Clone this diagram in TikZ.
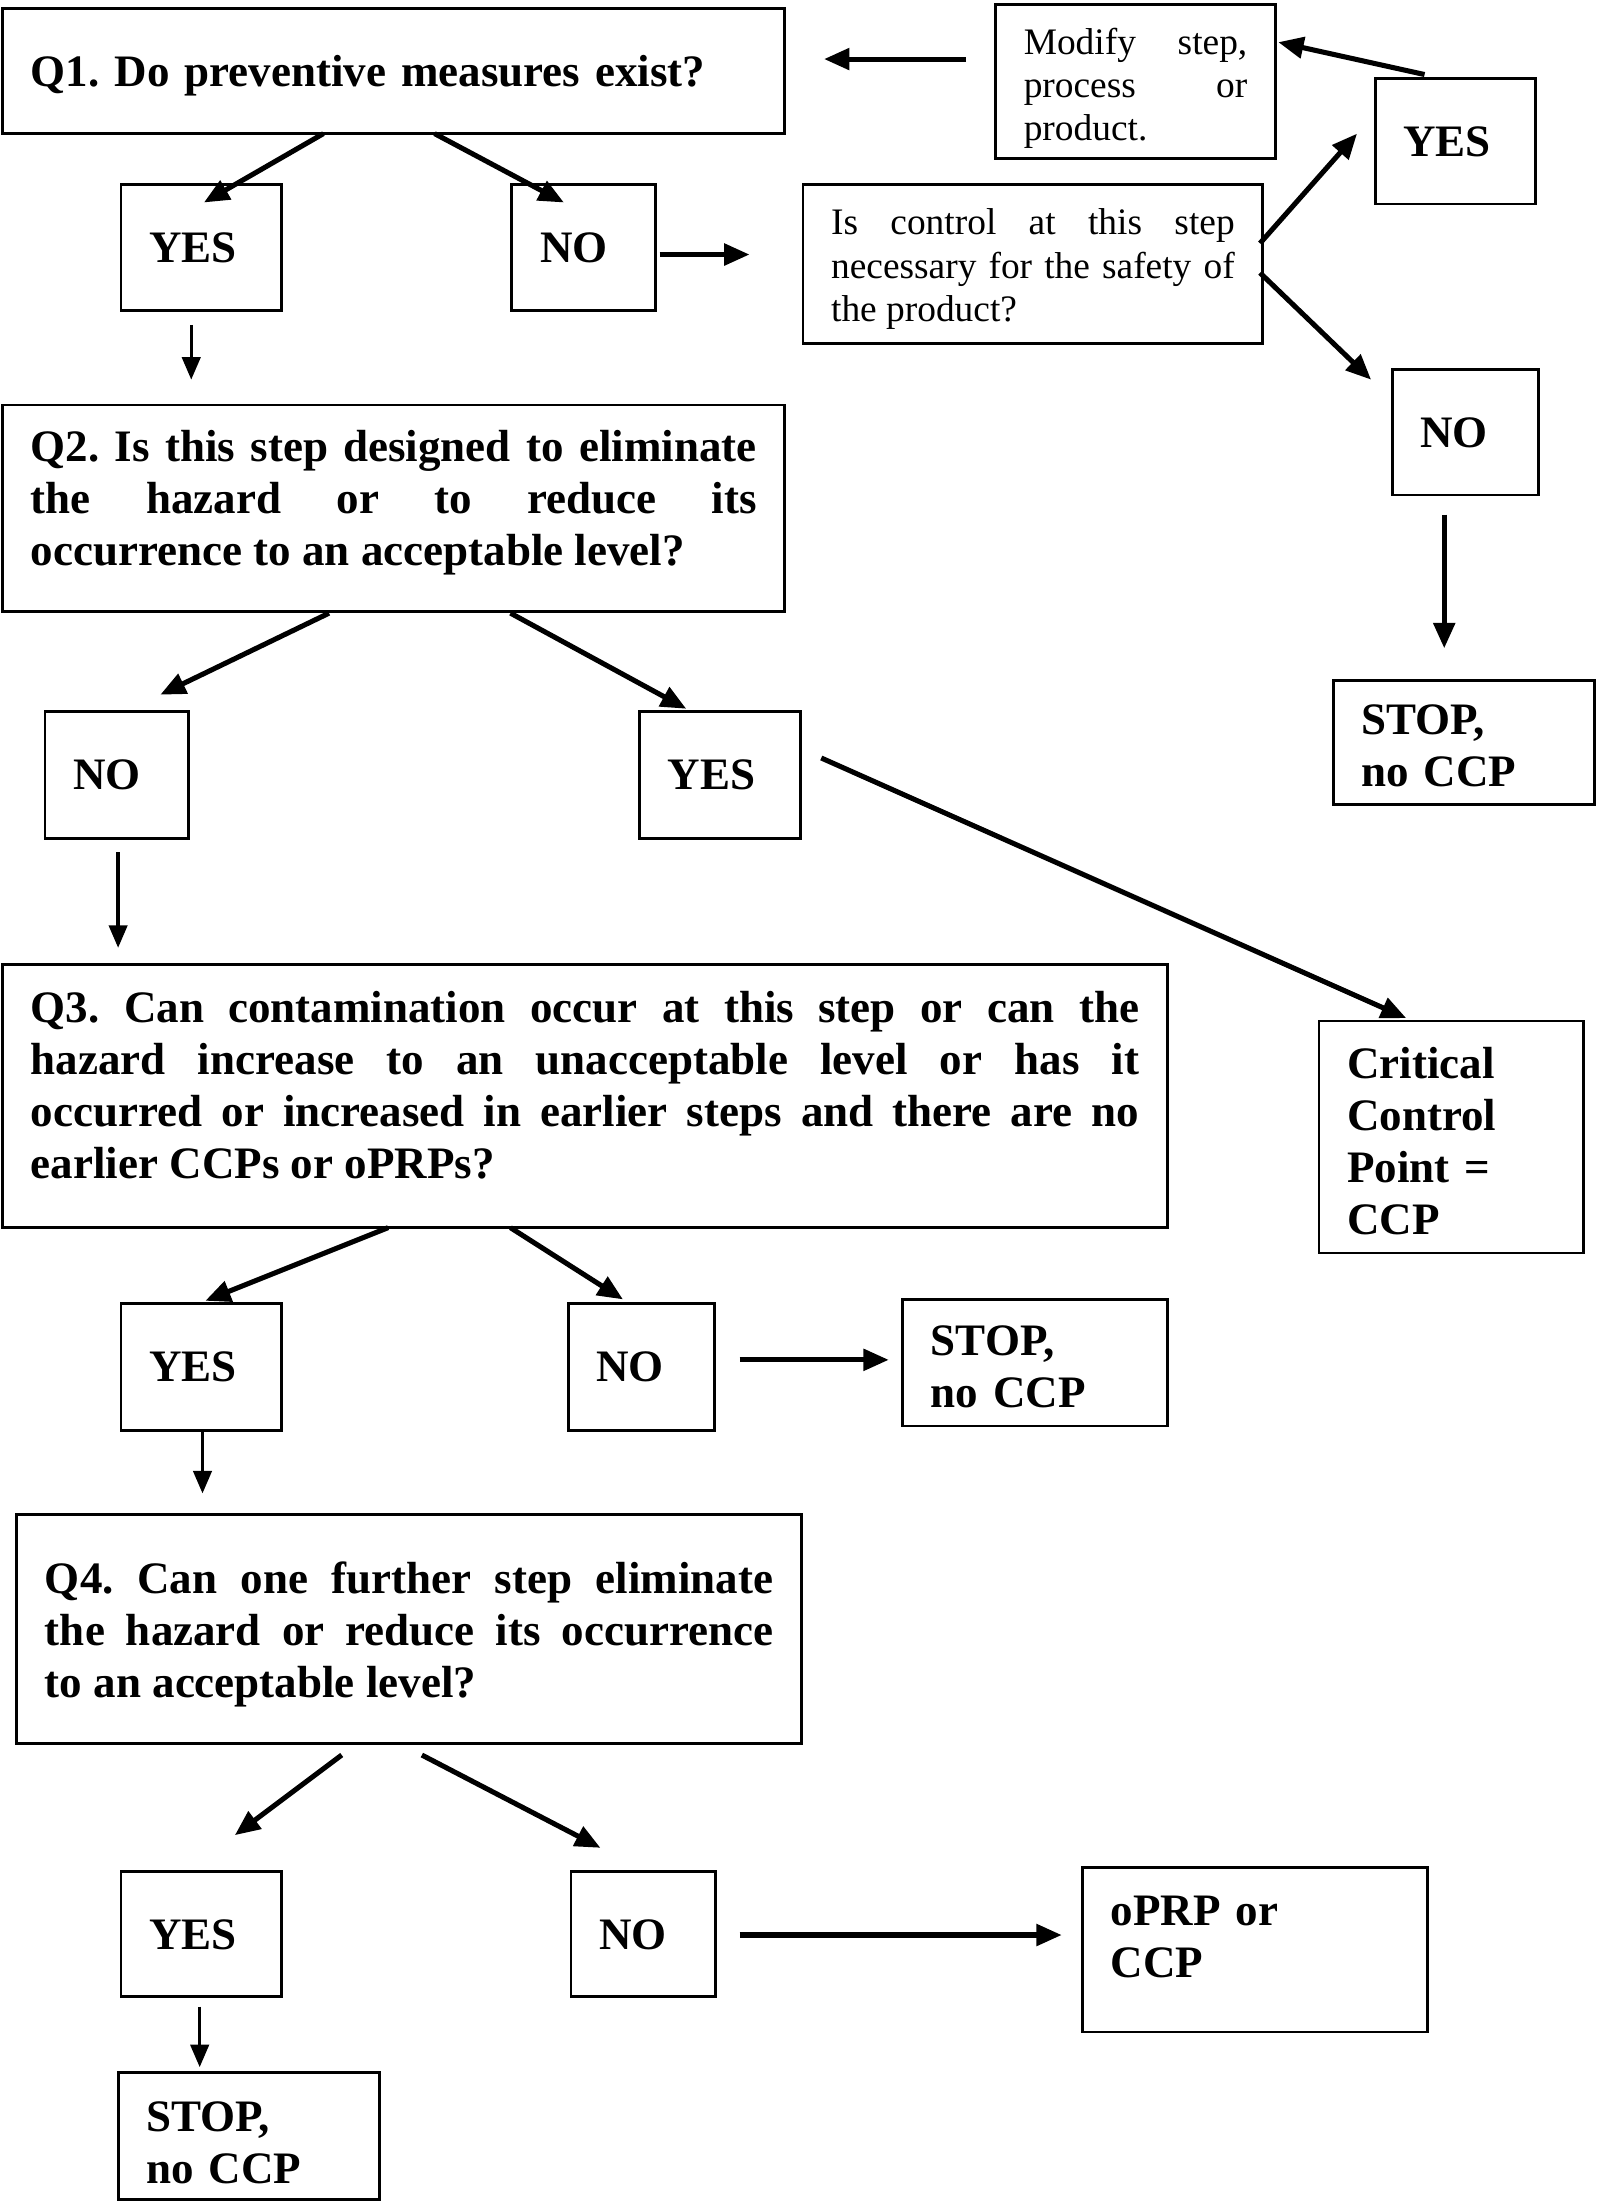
\documentclass[tikz,border=0pt]{standalone}
\usepackage{fontspec}
\setmainfont{Liberation Serif}
\usetikzlibrary{arrows.meta,calc}
\tikzset{
  box/.style={draw, line width=1pt, anchor=north west, inner xsep=10pt, inner ysep=0pt, outer sep=0pt, align=left},
  bt/.style={font=\fontsize{16}{18.5}\selectfont\bfseries},
  rt/.style={font=\fontsize{13.3}{15.3}\selectfont},
  arr/.style={line width=1.8pt, -{Triangle[length=9pt,width=7.5pt]}},
  arrt/.style={line width=1.2pt, -{Triangle[length=8pt,width=6.5pt]}},
}
\newcommand{\tp}[1]{\rule{0pt}{#1}}
\newcommand{\bm}[1]{\rule[-#1]{0pt}{0pt}}
\begin{document}
\frenchspacing
\begin{tikzpicture}[x=0.5pt,y=-0.5pt]
\useasboundingbox (0,0) rectangle (1140,1568);
% boxes
\node[box,bt,text width=258pt,minimum height=44.5pt] (q1) at (2,6) {\tp{15pt}Q1. Do preventive measures exist?\bm{4.24pt}};
\node[box,rt,text width=79.5pt,minimum height=55pt,align=justify] (mod) at (708,3) {\tp{15pt}Modify step,\linebreak process or\linebreak product.\bm{3.8pt}};
\node[box,bt,text width=37pt,minimum height=44.5pt] (yesA) at (978,56) {YES};
\node[box,bt,text width=37pt,minimum height=45pt] (yes1) at (86,131) {YES};
\node[box,bt,text width=31pt,minimum height=45pt] (no1) at (364,131) {NO};
\node[box,rt,text width=143.5pt,minimum height=56.5pt,align=justify] (ctrl) at (571,131) {\tp{15pt}Is control at this step\linebreak necessary for the safety of\linebreak the product?\bm{4.8pt}};
\node[box,bt,text width=32pt,minimum height=44.5pt] (noA) at (990,263) {NO};
\node[box,bt,text width=73pt,minimum height=44pt] (stopA) at (948,484) {\tp{15pt}STOP,\\no CCP\bm{2pt}};
\node[box,bt,text width=258pt,minimum height=73.5pt,align=justify] (q2) at (2,288) {\tp{15pt}Q2. Is this step designed to eliminate\linebreak the hazard or to reduce its\linebreak occurrence to an acceptable level?\bm{11.2pt}};
\node[box,bt,text width=31pt,minimum height=45pt] (no2) at (32,506) {NO};
\node[box,bt,text width=37pt,minimum height=45pt] (yes2) at (455,506) {YES};
\node[box,bt,text width=394pt,minimum height=93.5pt,align=justify] (q3) at (2,686) {\tp{15pt}Q3. Can contamination occur at this step or can the\linebreak hazard increase to an unacceptable level or has it\linebreak occurred or increased in earlier steps and there are no\linebreak earlier CCPs or oPRPs?\bm{12.1pt}};
\node[box,bt,text width=74pt,minimum height=82.5pt] (ccp) at (938,726) {\tp{15pt}Critical\\Control\\Point =\\CCP\bm{1.3pt}};
\node[box,bt,text width=37pt,minimum height=45pt] (yes3) at (86,927) {YES};
\node[box,bt,text width=32pt,minimum height=45pt] (no3) at (404,927) {NO};
\node[box,bt,text width=74pt,minimum height=45pt] (stopB) at (642,924) {\tp{15pt}STOP,\\no CCP\bm{1.5pt}};
\node[box,bt,text width=259pt,minimum height=81.5pt,align=justify] (q4) at (12,1077) {\tp{16pt}Q4. Can one further step eliminate\linebreak the hazard or reduce its occurrence\linebreak to an acceptable level?\bm{4.2pt}};
\node[box,bt,text width=37pt,minimum height=44.5pt] (yes4) at (86,1331) {YES};
\node[box,bt,text width=31.5pt,minimum height=44.5pt] (no4) at (406,1331) {NO};
\node[box,bt,text width=102.5pt,minimum height=58.5pt] (oprp) at (770,1328) {\tp{15pt}oPRP or\\CCP\bm{13.5pt}};
\node[box,bt,text width=73pt,minimum height=45pt] (stopC) at (84,1474) {\tp{16pt}STOP,\\no CCP\bm{1pt}};
% connectors
\draw[arr] ($(mod.north west)+(-21,39)$) -- ($(q1.north east)+(28,36)$);
\draw[arr] ($(yesA.north west)+(35,-3)$) -- ($(mod.north east)+(2,27)$);
\draw[arr] ($(q1.south west)+(228,0)$) -- ($(yes1.north west)+(59,13)$);
\draw[arr] ($(q1.south west)+(307,0)$) -- ($(no1.north west)+(37,13)$);
\draw[arr] ($(no1.north east)+(3,50)$) -- ($(ctrl.north west)+(-38,50)$);
\draw[arrt] ($(yes1.south west)+(50,10)$) -- ($(q2.north west)+(134,-18)$);
\draw[arr] ($(ctrl.north east)+(-2,42)$) -- ($(yesA.north west)+(-13,39)$);
\draw[arr] ($(ctrl.north east)+(-2,63)$) -- ($(noA.north west)+(-15,7)$);
\draw[arr] ($(noA.south west)+(37,14)$) -- ($(stopA.north west)+(79,-23)$);
\draw[arr] ($(q2.south west)+(232,1)$) -- ($(no2.north west)+(82,-12)$);
\draw[arr] ($(q2.south west)+(361,1)$) -- ($(yes2.north west)+(33,-2)$);
\draw[arrt] ($(no2.south west)+(52,10)$) -- ($(q3.north west)+(82,-12)$);
\draw[arr] ($(yes2.north east)+(15,33)$) -- ($(ccp.north west)+(62,-2)$);
\draw[arr] ($(q3.south west)+(274,0)$) -- ($(yes3.north west)+(60,-2)$);
\draw[arr] ($(q3.south west)+(361,0)$) -- ($(no3.north west)+(39,-3)$);
\draw[arr] ($(no3.north east)+(18,40)$) -- ($(stopB.north west)+(-10,43)$);
\draw[arrt] ($(yes3.south west)+(58,1)$) -- ($(q4.north west)+(132,-15)$);
\draw[arr] ($(q4.south west)+(231,8)$) -- ($(yes4.north west)+(81,-26)$);
\draw[arr] ($(q4.south west)+(288,8)$) -- ($(no4.north west)+(21,-17)$);
\draw[arr] ($(no4.north east)+(17,45)$) -- ($(oprp.north west)+(-15,48)$);
\draw[arrt] ($(yes4.south west)+(56,7)$) -- ($(stopC.north west)+(58,-4)$);
\end{tikzpicture}
\end{document}
